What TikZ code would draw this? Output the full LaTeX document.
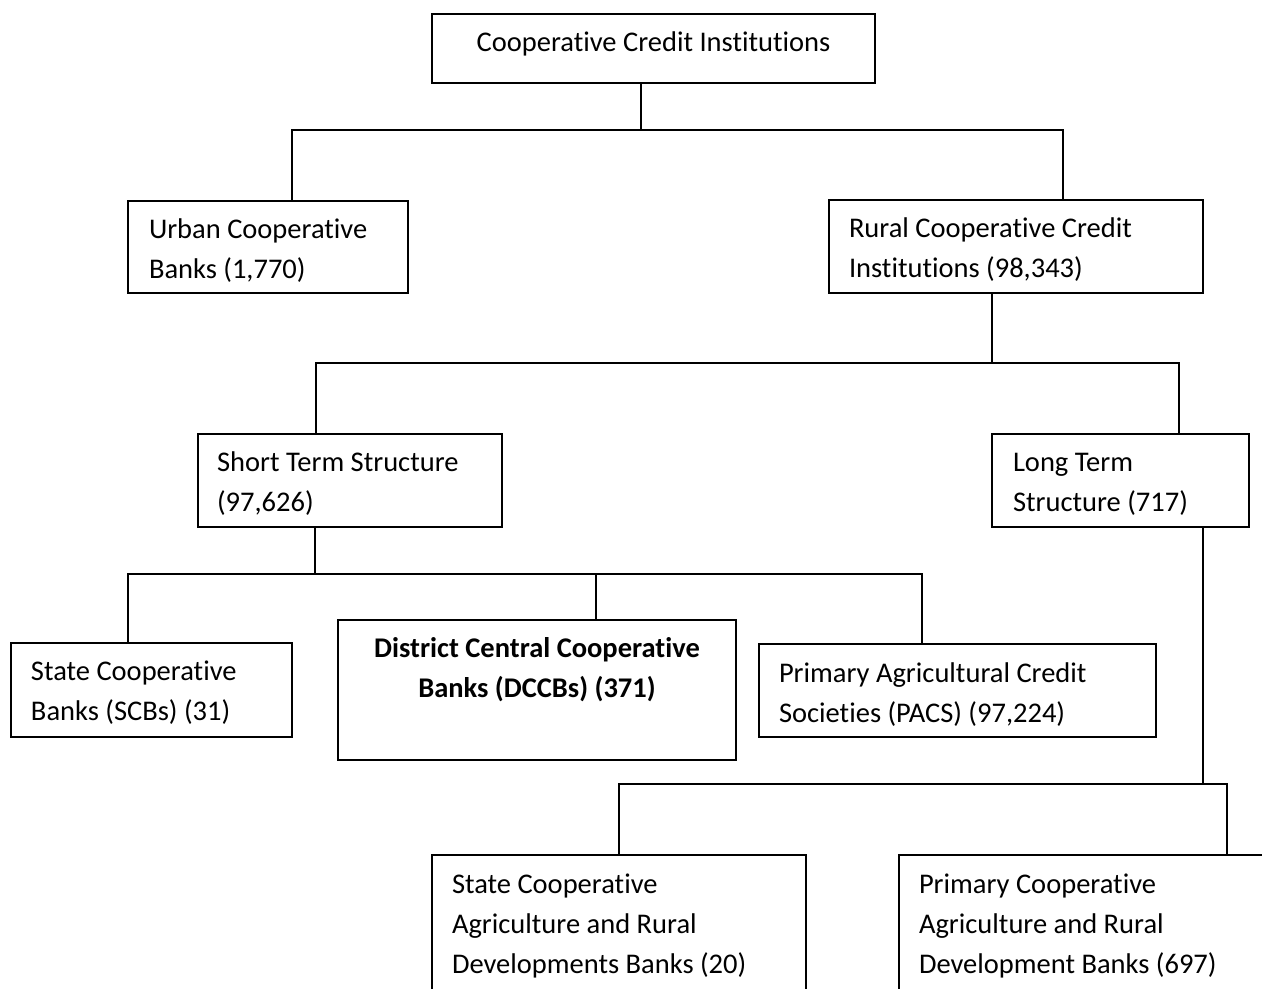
\documentclass[tikz,border=0pt]{standalone}
\usepackage{fontspec}
\setmainfont{Carlito}[Ligatures={NoCommon,NoContextual,NoRare}]
\usetikzlibrary{fit,calc}
\begin{document}
\begin{tikzpicture}[x=0.5pt,y=-0.5pt,
  line width=1pt,
  boxnode/.style={draw=black,line width=1pt,inner sep=0pt,fill=none},
  txt/.style={inner sep=0pt,font=\fontsize{14.25}{20}\selectfont},
  link/.style={draw=black,line width=1pt}]
\useasboundingbox (0,0) rectangle (1262,989);
\clip (0,0) rectangle (1262,989);
\fill[white] (0,0) rectangle (1262,989);

% boxes
\node[boxnode,fit={(432,14) (875,83)}] (top) {};
\node[boxnode,fit={(128,201) (408,293)}] (urb) {};
\node[boxnode,fit={(829,200) (1203,293)}] (rur) {};
\node[boxnode,fit={(198,434) (502,527)}] (sts) {};
\node[boxnode,fit={(992,434) (1249,527)}] (lts) {};
\node[boxnode,fit={(11,643) (292,737)}] (scb) {};
\node[boxnode,fit={(338,620) (736,760)}] (dcc) {};
\node[boxnode,fit={(759,644) (1156,737)}] (pac) {};
\node[boxnode,fit={(432,855) (806,1010)}] (sca) {};
\node[boxnode,fit={(899,855) (1290,1010)}] (pca) {};

% texts
\node[txt,anchor=base] (topT) at ($(top.north)+(0,39)$) {Cooperative Credit Institutions};
\node[txt,anchor=base west] (urbT) at ($(urb.north west)+(21,39)$)
  {\begin{tabular}[t]{@{}l@{}}Urban Cooperative\\Banks (1,770)\end{tabular}};
\node[txt,anchor=base west] (rurT) at ($(rur.north west)+(20,39)$)
  {\begin{tabular}[t]{@{}l@{}}Rural Cooperative Credit\\Institutions (98,343)\end{tabular}};
\node[txt,anchor=base west] (stsT) at ($(sts.north west)+(19,38)$)
  {\begin{tabular}[t]{@{}l@{}}Short Term Structure\\(97,626)\end{tabular}};
\node[txt,anchor=base west] (ltsT) at ($(lts.north west)+(21,38)$)
  {\begin{tabular}[t]{@{}l@{}}Long Term\\Structure (717)\end{tabular}};
\node[txt,anchor=base west] (scbT) at ($(scb.north west)+(20,38)$)
  {\begin{tabular}[t]{@{}l@{}}State Cooperative\\Banks (SCBs) (31)\end{tabular}};
\node[txt,anchor=base,font=\fontsize{14.25}{20}\selectfont\bfseries] (dccT) at ($(dcc.north)+(0,38)$)
  {\begin{tabular}[t]{@{}c@{}}District Central Cooperative\\Banks (DCCBs) (371)\end{tabular}};
\node[txt,anchor=base west] (pacT) at ($(pac.north west)+(20,39)$)
  {\begin{tabular}[t]{@{}l@{}}Primary Agricultural Credit\\Societies (PACS) (97,224)\end{tabular}};
\node[txt,anchor=base west] (scaT) at ($(sca.north west)+(20,39)$)
  {\begin{tabular}[t]{@{}l@{}}State Cooperative\\Agriculture and Rural\\Developments Banks (20)\end{tabular}};
\node[txt,anchor=base west] (pcaT) at ($(pca.north west)+(20,39)$)
  {\begin{tabular}[t]{@{}l@{}}Primary Cooperative\\Agriculture and Rural\\Development Banks (697)\end{tabular}};

% junction coordinates
\coordinate (j1) at (641,130);
\coordinate (j1a) at (292,130);
\coordinate (j1b) at (1063,130);
\coordinate (j2) at (992,363);
\coordinate (j2a) at (316,363);
\coordinate (j2b) at (1179,363);
\coordinate (j3) at (315,574);
\coordinate (j3a) at (128,574);
\coordinate (j3b) at (596,574);
\coordinate (j3c) at (922,574);
\coordinate (j4) at (1203,784);
\coordinate (j4a) at (619,784);
\coordinate (j4b) at (1227,784);

% connectors
\draw[link] (top.south -| j1) -- (j1);
\draw[link] (urb.north -| j1a) -- (j1a) -- (j1b) -- (rur.north -| j1b);

\draw[link] (rur.south -| j2) -- (j2);
\draw[link] (sts.north -| j2a) -- (j2a) -- (j2b) -- (lts.north -| j2b);

\draw[link] (sts.south -| j3) -- (j3);
\draw[link] (scb.north -| j3a) -- (j3a) -- (j3c) -- (pac.north -| j3c);
\draw[link] (j3b) -- (dcc.north -| j3b);

\draw[link] (lts.south -| j4) -- (j4);
\draw[link] (sca.north -| j4a) -- (j4a) -- (j4b) -- (pca.north -| j4b);
\end{tikzpicture}
\end{document}
